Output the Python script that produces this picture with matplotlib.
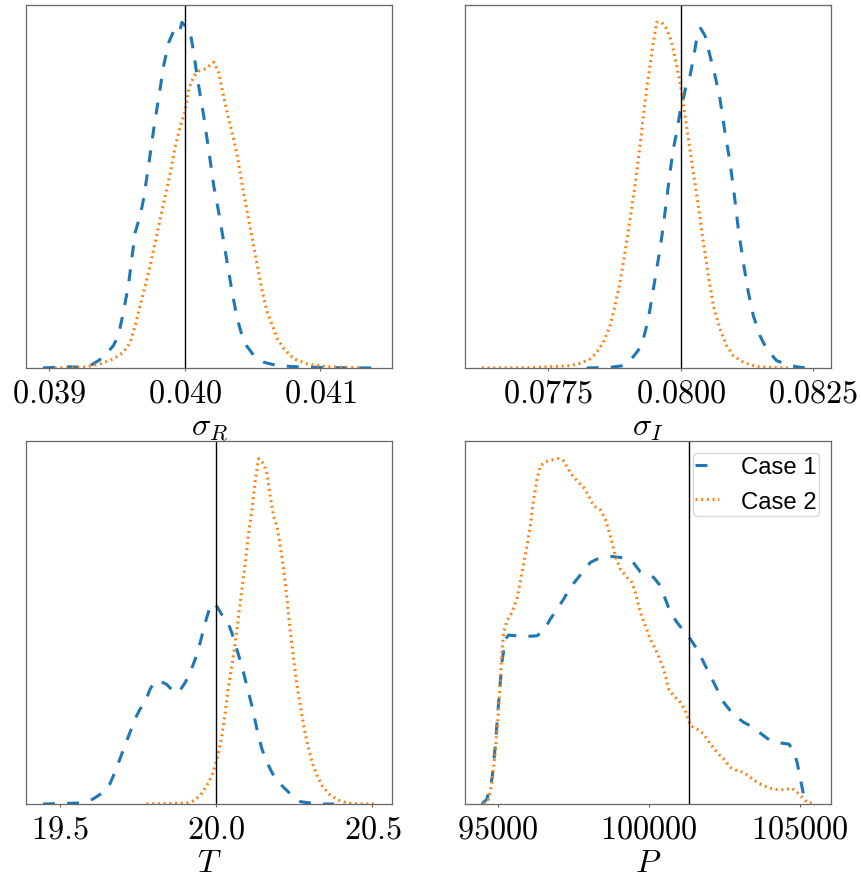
import matplotlib
matplotlib.use("Agg")
import matplotlib.pyplot as plt

plt.rcParams["mathtext.fontset"] = "cm"
plt.rcParams["lines.scale_dashes"] = False

# ---------------- data ----------------
case_labels = ["Case 1", "Case 2"]

# sigma_R
sr_x1 = [0.038953, 0.039126, 0.039250, 0.039324, 0.039399, 0.039473, 0.039510, 0.039547,
         0.039584, 0.039609, 0.039634, 0.039671, 0.039696, 0.039733, 0.039757, 0.039782,
         0.039814, 0.039844, 0.039881, 0.039918, 0.039943, 0.039963, 0.039980, 0.040005,
         0.040042, 0.040067, 0.040092, 0.040116, 0.040141, 0.040166, 0.040191, 0.040215,
         0.040252, 0.040277, 0.040314, 0.040351, 0.040389, 0.040438, 0.040512, 0.040587,
         0.040686, 0.040859, 0.041106, 0.041411]
sr_y1 = [0.000, 0.004, 0.002, 0.012, 0.032, 0.067, 0.097, 0.167,
         0.247, 0.327, 0.407, 0.457, 0.507, 0.607, 0.677, 0.747,
         0.827, 0.907, 0.977, 1.012, 1.022, 1.012, 1.039, 1.027,
         1.007, 0.947, 0.877, 0.817, 0.757, 0.687, 0.617, 0.547,
         0.467, 0.407, 0.317, 0.227, 0.147, 0.077, 0.037, 0.017,
         0.007, 0.003, 0.001, 0.000]
sr_x2 = [0.039040, 0.039250, 0.039374, 0.039473, 0.039547, 0.039597, 0.039634, 0.039671,
         0.039708, 0.039745, 0.039782, 0.039819, 0.039856, 0.039894, 0.039931, 0.039968,
         0.040000, 0.040030, 0.040067, 0.040104, 0.040141, 0.040178, 0.040215, 0.040252,
         0.040277, 0.040314, 0.040351, 0.040389, 0.040426, 0.040463, 0.040500, 0.040537,
         0.040574, 0.040611, 0.040649, 0.040686, 0.040735, 0.040809, 0.040908, 0.041057,
         0.041304]
sr_y2 = [0.000, 0.002, 0.012, 0.027, 0.047, 0.077, 0.127, 0.187,
         0.247, 0.307, 0.377, 0.447, 0.517, 0.587, 0.667, 0.727,
         0.767, 0.837, 0.877, 0.892, 0.897, 0.907, 0.919, 0.887,
         0.837, 0.767, 0.707, 0.637, 0.547, 0.467, 0.387, 0.307,
         0.227, 0.167, 0.127, 0.087, 0.057, 0.027, 0.012, 0.004,
         0.000]

# sigma_I
si_x1 = [0.078223, 0.078664, 0.078915, 0.079041, 0.079167, 0.079261, 0.079324, 0.079387,
         0.079450, 0.079513, 0.079607, 0.079670, 0.079733, 0.079796, 0.079858, 0.079921,
         0.079984, 0.080047, 0.080097, 0.080173, 0.080236, 0.080299, 0.080374, 0.080456,
         0.080550, 0.080645, 0.080739, 0.080833, 0.080928, 0.081003, 0.081085, 0.081179,
         0.081274, 0.081368, 0.081494, 0.081619, 0.081808, 0.082060, 0.082300, 0.082526]
si_y1 = [0.000, 0.002, 0.007, 0.022, 0.047, 0.067, 0.107, 0.147,
         0.207, 0.267, 0.357, 0.427, 0.507, 0.587, 0.657, 0.707,
         0.767, 0.807, 0.847, 0.877, 0.927, 0.987, 1.019, 0.997,
         0.937, 0.877, 0.807, 0.707, 0.617, 0.527, 0.417, 0.317,
         0.227, 0.157, 0.097, 0.057, 0.022, 0.007, 0.001, 0.000]
si_x2 = [0.076246, 0.077154, 0.077909, 0.078097, 0.078286, 0.078412, 0.078538, 0.078664,
         0.078758, 0.078852, 0.078947, 0.079041, 0.079135, 0.079230, 0.079292, 0.079355,
         0.079418, 0.079481, 0.079544, 0.079638, 0.079733, 0.079827, 0.079921, 0.079997,
         0.080079, 0.080142, 0.080236, 0.080330, 0.080425, 0.080519, 0.080613, 0.080739,
         0.080865, 0.080991, 0.081179, 0.081431, 0.081745, 0.082060]
si_y2 = [0.000, 0.001, 0.007, 0.014, 0.027, 0.047, 0.077, 0.127,
         0.187, 0.257, 0.347, 0.447, 0.547, 0.667, 0.757, 0.837,
         0.907, 0.977, 1.037, 1.037, 1.017, 0.977, 0.907, 0.847,
         0.757, 0.687, 0.587, 0.487, 0.377, 0.277, 0.187, 0.117,
         0.067, 0.037, 0.017, 0.004, 0.001, 0.000]

# T
t_x1 = [19.4454, 19.5632, 19.6060, 19.6381, 19.6595, 19.6756, 19.6916, 19.7077,
        19.7238, 19.7398, 19.7559, 19.7719, 19.7880, 19.8041, 19.8201, 19.8415,
        19.8630, 19.8790, 19.9004, 19.9165, 19.9325, 19.9486, 19.9647, 19.9807,
        19.9914, 20.0021, 20.0182, 20.0343, 20.0503, 20.0664, 20.0824, 20.0985,
        20.1146, 20.1306, 20.1467, 20.1627, 20.1842, 20.2109, 20.2377, 20.2698,
        20.3233, 20.3769]
t_y1 = [0.000, 0.003, 0.015, 0.035, 0.060, 0.095, 0.135, 0.175,
        0.215, 0.255, 0.285, 0.305, 0.345, 0.370, 0.370, 0.360,
        0.340, 0.335, 0.365, 0.395, 0.435, 0.485, 0.545, 0.595,
        0.605, 0.595, 0.570, 0.555, 0.515, 0.465, 0.415, 0.355,
        0.295, 0.225, 0.165, 0.125, 0.085, 0.055, 0.030, 0.007,
        0.000, 0.000]
t_x2 = [19.7773, 19.9058, 19.9272, 19.9486, 19.9700, 19.9861, 19.9968, 20.0075,
        20.0182, 20.0289, 20.0396, 20.0503, 20.0610, 20.0717, 20.0824, 20.0931,
        20.1039, 20.1146, 20.1253, 20.1360, 20.1520, 20.1627, 20.1734, 20.1842,
        20.1949, 20.2056, 20.2163, 20.2270, 20.2377, 20.2484, 20.2591, 20.2698,
        20.2805, 20.2912, 20.3073, 20.3233, 20.3394, 20.3608, 20.3876, 20.4197,
        20.4625, 20.5107]
t_y2 = [0.000, 0.003, 0.010, 0.025, 0.055, 0.085, 0.115, 0.155,
        0.205, 0.275, 0.355, 0.415, 0.485, 0.565, 0.645, 0.725,
        0.815, 0.885, 0.975, 1.040, 1.025, 0.995, 0.925, 0.865,
        0.835, 0.775, 0.705, 0.615, 0.515, 0.435, 0.355, 0.295,
        0.235, 0.185, 0.125, 0.085, 0.055, 0.030, 0.013, 0.003,
        0.000, 0.000]

# P
p_x1 = [94475, 94641, 94807, 94917, 95028, 95138, 95249, 95359,
        95635, 95967, 96298, 96519, 96740, 96961, 97182, 97403,
        97624, 97845, 98066, 98287, 98508, 98785, 99061, 99337,
        99503, 99724, 99945, 100166, 100387, 100553, 100718, 100939,
        101160, 101381, 101602, 101823, 102044, 102265, 102486, 102707,
        102928, 103149, 103370, 103591, 103812, 104033, 104365, 104641,
        104807, 104917, 105028, 105138, 105249]
p_y1 = [0.000, 0.015, 0.075, 0.175, 0.305, 0.425, 0.495, 0.507,
        0.505, 0.503, 0.505, 0.520, 0.555, 0.585, 0.615, 0.650,
        0.675, 0.700, 0.725, 0.735, 0.740, 0.743, 0.740, 0.735,
        0.723, 0.697, 0.690, 0.680, 0.655, 0.615, 0.575, 0.545,
        0.520, 0.495, 0.465, 0.425, 0.385, 0.345, 0.305, 0.280,
        0.260, 0.245, 0.235, 0.220, 0.205, 0.190, 0.183, 0.180,
        0.160, 0.125, 0.075, 0.025, 0.000]
p_x2 = [94530, 94696, 94807, 94917, 95028, 95083, 95138, 95193,
        95304, 95470, 95635, 95801, 95967, 96077, 96188, 96298,
        96409, 96575, 96796, 97017, 97182, 97403, 97624, 97845,
        98011, 98177, 98398, 98564, 98729, 98895, 99061, 99282,
        99448, 99558, 99724, 99890, 100055, 100276, 100497, 100663,
        100829, 101050, 101215, 101381, 101602, 101823, 102044, 102265,
        102486, 102707, 102928, 103149, 103370, 103591, 103812, 104033,
        104254, 104475, 104751, 104917, 105083, 105249, 105500]
p_y2 = [0.000, 0.015, 0.065, 0.155, 0.285, 0.375, 0.455, 0.515,
        0.550, 0.575, 0.615, 0.695, 0.775, 0.835, 0.915, 0.975,
        1.015, 1.027, 1.033, 1.037, 1.030, 0.995, 0.970, 0.950,
        0.925, 0.895, 0.883, 0.855, 0.805, 0.745, 0.705, 0.680,
        0.665, 0.635, 0.575, 0.535, 0.495, 0.455, 0.405, 0.345,
        0.325, 0.305, 0.280, 0.235, 0.225, 0.210, 0.180, 0.155,
        0.135, 0.110, 0.100, 0.095, 0.080, 0.065, 0.055, 0.047,
        0.043, 0.043, 0.047, 0.035, 0.020, 0.005, 0.000]

true_values = [0.040, 0.080, 20.0, 101325]
axis_labels = [r"$\sigma_R$", r"$\sigma_I$", r"$T$", r"$P$"]
tick_values = [[0.039, 0.040, 0.041],
               [0.0775, 0.0800, 0.0825],
               [19.5, 20.0, 20.5],
               [95000, 100000, 105000]]
tick_labels = [["0.039", "0.040", "0.041"],
               ["0.0775", "0.0800", "0.0825"],
               ["19.5", "20.0", "20.5"],
               ["95000", "100000", "105000"]]

panels = [
    (sr_x1, sr_y1, sr_x2, sr_y2),
    (si_x1, si_y1, si_x2, si_y2),
    (t_x1, t_y1, t_x2, t_y2),
    (p_x1, p_y1, p_x2, p_y2),
]

# ---------------- figure ----------------
W, H = 861, 878
fig = plt.figure(figsize=(W / 100, H / 100), dpi=100)

# axes boxes in pixels: (left, top, right, bottom)
boxes = [(26.3, 6.0, 392.3, 369.0),
         (465.3, 6.0, 831.3, 369.0),
         (26.3, 442.3, 392.3, 805.0),
         (465.3, 442.3, 831.3, 805.0)]

blue = "#1f77b4"
orange = "#ff7f0e"
spine_col = "#666666"
dash_style = (0, (8.6, 8.8))
dot_style = (0, (1.4, 2.7))

for i, (x1, y1, x2, y2) in enumerate(panels):
    l, t, r, b = boxes[i]
    ax = fig.add_axes([l / W, (H - b) / H, (r - l) / W, (b - t) / H])
    ax.plot(x1, y1, color=blue, lw=2.2, linestyle=dash_style, label=case_labels[0])
    ax.plot(x2, y2, color=orange, lw=2.2, linestyle=dot_style, label=case_labels[1])
    ax.axvline(true_values[i], color="black", lw=1.0)
    ax.set_ylim(bottom=0)
    ax.set_yticks([])
    ax.set_xticks(tick_values[i])
    ax.set_xticklabels(["$" + s + "$" for s in tick_labels[i]], fontsize=23.2)
    ax.set_xlabel(axis_labels[i], fontsize=23.2, labelpad=2)
    ax.tick_params(axis="x", length=2.5, width=0.8, color=spine_col, pad=4)
    for sp in ax.spines.values():
        sp.set_color(spine_col)
        sp.set_linewidth(0.9)
    if i == 3:
        ax.legend(loc="upper right", prop={"family": "Liberation Sans", "size": 17.2},
                  handlelength=1.0, handletextpad=0.9, borderpad=0.12,
                  labelspacing=0.53, borderaxespad=0.5)

fig.savefig("out.png", dpi=100)
